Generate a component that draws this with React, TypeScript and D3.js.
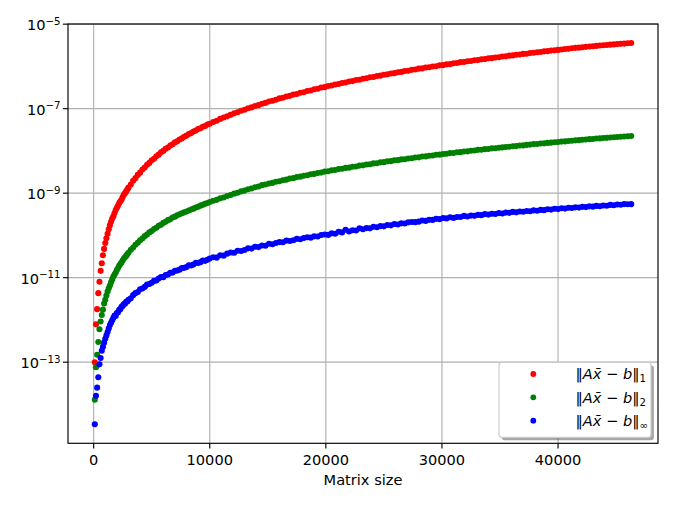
import React from "react";
import * as d3 from "d3";

// Matrix sizes (x)
const matrixSize = [
  100, 200, 300, 400, 500, 600, 700, 800, 900, 1000,
  1100, 1200, 1300, 1400, 1500, 1600, 1700, 1800, 1900, 2000,
  2100, 2200, 2300, 2400, 2500, 2600, 2700, 2800, 2900, 3000,
  3200, 3400, 3600, 3800, 4000, 4200, 4400, 4600, 4800, 5000,
  5200, 5400, 5600, 5800, 6000, 6200, 6400, 6600, 6800, 7000,
  7200, 7400, 7600, 7800, 8000, 8200, 8400, 8600, 8800, 9000,
  9200, 9400, 9600, 9800, 10000,
  10300, 10600, 10900, 11200, 11500, 11800, 12100, 12400, 12700, 13000,
  13300, 13600, 13900, 14200, 14500, 14800, 15100, 15400, 15700, 16000,
  16300, 16600, 16900, 17200, 17500, 17800, 18100, 18400, 18700, 19000,
  19300, 19600, 19900, 20200, 20500, 20800, 21100, 21400, 21700, 22000,
  22300, 22600, 22900, 23200, 23500, 23800, 24100, 24400, 24700, 25000,
  25300, 25600, 25900, 26200, 26500, 26800, 27100, 27400, 27700, 28000,
  28300, 28600, 28900, 29200, 29500, 29800, 30100, 30400, 30700, 31000,
  31300, 31600, 31900, 32200, 32500, 32800, 33100, 33400, 33700, 34000,
  34300, 34600, 34900, 35200, 35500, 35800, 36100, 36400, 36700, 37000,
  37300, 37600, 37900, 38200, 38500, 38800, 39100, 39400, 39700, 40000,
  40300, 40600, 40900, 41200, 41500, 41800, 42100, 42400, 42700, 43000,
  43300, 43600, 43900, 44200, 44500, 44800, 45100, 45400, 45700, 46000, 46300,
];

// ||Ax - b||_1
const normOne = [
  1.0e-13, 7.9e-13, 1.8e-12, 4.3e-12, 8.0e-12, 1.45e-11, 2.2e-11, 3.4e-11, 4.8e-11, 6.6e-11,
  8.6e-11, 1.1e-10, 1.4e-10, 1.75e-10, 2.1e-10, 2.5e-10, 2.85e-10, 3.4e-10, 4.0e-10, 4.5e-10,
  5.1e-10, 5.8e-10, 6.4e-10, 7.0e-10, 8.1e-10, 9.2e-10, 1.0e-9, 1.1e-9, 1.22e-9, 1.35e-9,
  1.60e-9, 1.97e-9, 2.27e-9, 2.71e-9, 3.06e-9, 3.62e-9, 4.05e-9, 4.70e-9, 5.20e-9, 6.01e-9,
  6.55e-9, 7.50e-9, 8.15e-9, 9.25e-9, 1.00e-8, 1.12e-8, 1.20e-8, 1.34e-8, 1.43e-8, 1.59e-8,
  1.70e-8, 1.87e-8, 1.98e-8, 2.17e-8, 2.30e-8, 2.52e-8, 2.64e-8, 2.89e-8, 3.03e-8, 3.29e-8,
  3.45e-8, 3.73e-8, 3.90e-8, 4.21e-8, 4.40e-8,
  4.85e-8, 5.17e-8, 5.72e-8, 6.16e-8, 6.58e-8, 7.13e-8, 7.75e-8, 8.24e-8, 8.92e-8, 9.41e-8,
  1.02e-7, 1.07e-7, 1.16e-7, 1.21e-7, 1.31e-7, 1.37e-7, 1.48e-7, 1.54e-7, 1.62e-7, 1.75e-7,
  1.81e-7, 1.94e-7, 2.01e-7, 2.15e-7, 2.22e-7, 2.38e-7, 2.45e-7, 2.62e-7, 2.69e-7, 2.87e-7,
  2.95e-7, 3.15e-7, 3.23e-7, 3.43e-7, 3.52e-7, 3.74e-7, 3.82e-7, 4.06e-7, 4.15e-7, 4.39e-7,
  4.49e-7, 4.76e-7, 4.85e-7, 5.12e-7, 5.23e-7, 5.52e-7, 5.63e-7, 5.93e-7, 6.04e-7, 6.36e-7,
  6.48e-7, 6.81e-7, 6.93e-7, 7.29e-7, 7.41e-7, 7.78e-7, 7.90e-7, 8.29e-7, 8.44e-7, 8.84e-7,
  8.97e-7, 9.39e-7, 9.54e-7, 9.98e-7, 1.01e-6, 1.06e-6, 1.07e-6, 1.12e-6, 1.13e-6, 1.19e-6,
  1.20e-6, 1.26e-6, 1.27e-6, 1.32e-6, 1.34e-6, 1.40e-6, 1.41e-6, 1.47e-6, 1.49e-6, 1.55e-6,
  1.57e-6, 1.63e-6, 1.65e-6, 1.71e-6, 1.73e-6, 1.80e-6, 1.82e-6, 1.89e-6, 1.91e-6, 1.98e-6,
  2.00e-6, 2.07e-6, 2.10e-6, 2.17e-6, 2.20e-6, 2.27e-6, 2.30e-6, 2.37e-6, 2.40e-6, 2.46e-6,
  2.51e-6, 2.58e-6, 2.62e-6, 2.68e-6, 2.75e-6, 2.78e-6, 2.84e-6, 2.90e-6, 2.95e-6, 3.01e-6,
  3.06e-6, 3.12e-6, 3.17e-6, 3.22e-6, 3.27e-6, 3.32e-6, 3.37e-6, 3.42e-6, 3.47e-6, 3.52e-6, 3.57e-6,
];

// ||Ax - b||_2
const normTwo = [
  1.3e-14, 7.6e-14, 1.5e-13, 3.0e-13, 6.0e-13, 9.2e-13, 1.31e-12, 1.75e-12, 2.45e-12, 3.0e-12,
  3.8e-12, 4.7e-12, 5.6e-12, 6.5e-12, 7.8e-12, 9.0e-12, 1.06e-11, 1.19e-11, 1.33e-11, 1.52e-11,
  1.70e-11, 1.92e-11, 2.11e-11, 2.29e-11, 2.55e-11, 2.84e-11, 3.05e-11, 3.28e-11, 3.60e-11, 3.90e-11,
  4.6e-11, 5.17e-11, 6.03e-11, 6.70e-11, 7.72e-11, 8.47e-11, 9.62e-11, 1.05e-10, 1.18e-10, 1.27e-10,
  1.42e-10, 1.52e-10, 1.69e-10, 1.79e-10, 1.98e-10, 2.10e-10, 2.30e-10, 2.42e-10, 2.65e-10, 2.78e-10,
  2.99e-10, 3.16e-10, 3.35e-10, 3.52e-10, 3.69e-10, 3.88e-10, 4.12e-10, 4.30e-10, 4.57e-10, 4.78e-10,
  5.06e-10, 5.29e-10, 5.59e-10, 5.83e-10, 6.14e-10,
  6.6e-10, 6.95e-10, 7.55e-10, 7.92e-10, 8.6e-10, 9.05e-10, 9.74e-10, 1.02e-9, 1.10e-9, 1.15e-9,
  1.24e-9, 1.29e-9, 1.38e-9, 1.44e-9, 1.55e-9, 1.60e-9, 1.70e-9, 1.75e-9, 1.86e-9, 1.92e-9,
  2.03e-9, 2.09e-9, 2.21e-9, 2.27e-9, 2.40e-9, 2.46e-9, 2.59e-9, 2.65e-9, 2.80e-9, 2.86e-9,
  3.01e-9, 3.07e-9, 3.24e-9, 3.30e-9, 3.47e-9, 3.53e-9, 3.71e-9, 3.77e-9, 3.96e-9, 4.02e-9,
  4.22e-9, 4.28e-9, 4.49e-9, 4.55e-9, 4.77e-9, 4.83e-9, 5.06e-9, 5.12e-9, 5.36e-9, 5.42e-9,
  5.66e-9, 5.73e-9, 5.98e-9, 6.05e-9, 6.30e-9, 6.37e-9, 6.64e-9, 6.71e-9, 6.99e-9, 7.05e-9,
  7.35e-9, 7.41e-9, 7.71e-9, 7.78e-9, 8.09e-9, 8.16e-9, 8.48e-9, 8.55e-9, 8.88e-9, 8.95e-9,
  9.28e-9, 9.36e-9, 9.70e-9, 9.78e-9, 1.01e-8, 1.02e-8, 1.06e-8, 1.07e-8, 1.10e-8, 1.11e-8,
  1.15e-8, 1.16e-8, 1.19e-8, 1.21e-8, 1.24e-8, 1.25e-8, 1.29e-8, 1.30e-8, 1.34e-8, 1.35e-8,
  1.39e-8, 1.41e-8, 1.45e-8, 1.46e-8, 1.50e-8, 1.51e-8, 1.55e-8, 1.57e-8, 1.61e-8, 1.62e-8,
  1.66e-8, 1.68e-8, 1.72e-8, 1.74e-8, 1.78e-8, 1.80e-8, 1.84e-8, 1.86e-8, 1.90e-8, 1.92e-8,
  1.96e-8, 1.98e-8, 2.02e-8, 2.04e-8, 2.08e-8, 2.10e-8, 2.14e-8, 2.16e-8, 2.20e-8, 2.22e-8, 2.25e-8,
];

// ||Ax - b||_inf
const normInf = [
  3.4e-15, 1.6e-14, 2.5e-14, 4.4e-14, 8.9e-14, 1.26e-13, 1.86e-13, 2.3e-13, 2.9e-13, 3.6e-13,
  4.3e-13, 5.2e-13, 6.3e-13, 7.6e-13, 8.6e-13, 9.8e-13, 1.12e-12, 1.27e-12, 1.24e-12, 1.45e-12,
  1.52e-12, 1.74e-12, 1.80e-12, 2.05e-12, 2.15e-12, 2.38e-12, 2.41e-12, 2.70e-12, 2.72e-12, 2.98e-12,
  3.25e-12, 3.86e-12, 4.30e-12, 4.58e-12, 5.30e-12, 5.55e-12, 6.05e-12, 6.85e-12, 7.10e-12, 7.60e-12,
  8.40e-12, 8.55e-12, 9.50e-12, 1.04e-11, 1.03e-11, 1.16e-11, 1.19e-11, 1.31e-11, 1.32e-11, 1.45e-11,
  1.47e-11, 1.55e-11, 1.70e-11, 1.71e-11, 1.78e-11, 1.97e-11, 1.95e-11, 2.05e-11, 2.25e-11, 2.22e-11,
  2.33e-11, 2.55e-11, 2.50e-11, 2.64e-11, 2.85e-11,
  3.05e-11, 2.98e-11, 3.40e-11, 3.32e-11, 3.70e-11, 3.95e-11, 3.88e-11, 4.35e-11, 4.28e-11, 4.52e-11,
  4.95e-11, 4.88e-11, 5.40e-11, 5.30e-11, 5.78e-11, 5.72e-11, 6.35e-11, 6.20e-11, 6.60e-11, 6.95e-11,
  6.90e-11, 7.55e-11, 7.40e-11, 7.68e-11, 8.30e-11, 8.10e-11, 8.70e-11, 9.05e-11, 8.85e-11, 9.50e-11,
  9.45e-11, 1.02e-10, 1.05e-10, 1.03e-10, 1.12e-10, 1.10e-10, 1.22e-10, 1.18e-10, 1.36e-10, 1.24e-10,
  1.33e-10, 1.31e-10, 1.47e-10, 1.40e-10, 1.49e-10, 1.47e-10, 1.60e-10, 1.56e-10, 1.66e-10, 1.64e-10,
  1.76e-10, 1.73e-10, 1.86e-10, 1.82e-10, 1.93e-10, 1.91e-10, 2.04e-10, 2.08e-10, 2.06e-10, 2.12e-10,
  2.26e-10, 2.21e-10, 2.34e-10, 2.33e-10, 2.47e-10, 2.43e-10, 2.58e-10, 2.53e-10, 2.70e-10, 2.60e-10,
  2.74e-10, 2.73e-10, 2.90e-10, 2.81e-10, 2.95e-10, 2.91e-10, 3.06e-10, 3.02e-10, 3.20e-10, 3.11e-10,
  3.25e-10, 3.21e-10, 3.38e-10, 3.30e-10, 3.47e-10, 3.42e-10, 3.60e-10, 3.52e-10, 3.68e-10, 3.63e-10,
  3.80e-10, 3.74e-10, 3.92e-10, 3.85e-10, 4.02e-10, 3.97e-10, 4.15e-10, 4.08e-10, 4.28e-10, 4.20e-10,
  4.38e-10, 4.31e-10, 4.52e-10, 4.45e-10, 4.62e-10, 4.55e-10, 4.75e-10, 4.68e-10, 4.88e-10, 4.80e-10,
  5.00e-10, 4.92e-10, 5.12e-10, 5.05e-10, 5.28e-10, 5.16e-10, 5.38e-10, 5.30e-10, 5.52e-10, 5.45e-10, 5.50e-10,
];

const xTicks = [0, 10000, 20000, 30000, 40000];
const yTickExponents = [-13, -11, -9, -7, -5];
const legendSubscripts = ["1", "2", "\u221e"];
const seriesColors = ["#ff0000", "#008000", "#0000ff"];

const W = 674;
const H = 505;
const box = { left: 68, right: 658, top: 24, bottom: 443.3 };
const FONT = "DejaVu Sans";
const FS = 14.6;
const FS_SMALL = 10.2;

export default function App() {
  const [xMin, xMax] = d3.extent(matrixSize) as [number, number];
  const xPad = 0.05 * (xMax - xMin);
  const x = d3.scaleLinear().domain([xMin - xPad, xMax + xPad]).range([box.left, box.right]);

  const all = [...normOne, ...normTwo, ...normInf];
  const lo = Math.log10(d3.min(all) as number);
  const hi = Math.log10(d3.max(all) as number);
  const yPad = 0.05 * (hi - lo);
  const y = d3
    .scaleLog()
    .domain([Math.pow(10, lo - yPad), Math.pow(10, hi + yPad)])
    .range([box.bottom, box.top]);

  const series = [normOne, normTwo, normInf];
  const tickLen = 5.1;
  const lw = 1.15;

  const legend = { x: 499, y: 362.3, w: 152, h: 75 };
  const rowYs = [374, 397.3, 420.7];

  return (
    <svg
      width={W}
      height={H}
      viewBox={`0 0 ${W} ${H}`}
      style={{ position: "absolute", left: 0, top: 0, background: "#fff" }}
      fontFamily={FONT}
    >
      <rect x={0} y={0} width={W} height={H} fill="#fff" />
      {/* grid */}
      <g stroke="#b0b0b0" strokeWidth={lw}>
        {xTicks.map((t) => (
          <line key={"gx" + t} x1={x(t)} x2={x(t)} y1={box.top} y2={box.bottom} />
        ))}
        {yTickExponents.map((e) => (
          <line key={"gy" + e} x1={box.left} x2={box.right} y1={y(Math.pow(10, e))} y2={y(Math.pow(10, e))} />
        ))}
      </g>
      {/* data */}
      {series.map((s, si) => (
        <g key={"s" + si} fill={seriesColors[si]}>
          {s.map((v, i) => (
            <circle key={i} cx={x(matrixSize[i])} cy={y(v)} r={3.05} />
          ))}
        </g>
      ))}
      {/* spines */}
      <rect
        x={box.left}
        y={box.top}
        width={box.right - box.left}
        height={box.bottom - box.top}
        fill="none"
        stroke="#000"
        strokeWidth={lw}
      />
      {/* x ticks */}
      <g>
        {xTicks.map((t) => (
          <g key={"xt" + t}>
            <line x1={x(t)} x2={x(t)} y1={box.bottom} y2={box.bottom + tickLen} stroke="#000" strokeWidth={lw} />
            <text x={x(t)} y={465.2} textAnchor="middle" fontSize={FS} fill="#000">
              {String(t)}
            </text>
          </g>
        ))}
      </g>
      <text x={(box.left + box.right) / 2} y={484.8} textAnchor="middle" fontSize={FS} fill="#000">
        Matrix size
      </text>
      {/* y ticks */}
      <g>
        {yTickExponents.map((e) => {
          const yy = y(Math.pow(10, e));
          return (
            <g key={"yt" + e}>
              <line x1={box.left - tickLen} x2={box.left} y1={yy} y2={yy} stroke="#000" strokeWidth={lw} />
              <text x={60.5} y={yy + 6} textAnchor="end" fontSize={FS} fill="#000">
                <tspan>10</tspan>
                <tspan dy={-5.2} fontSize={FS_SMALL}>{"\u2212" + Math.abs(e)}</tspan>
              </text>
            </g>
          );
        })}
      </g>
      {/* legend */}
      <rect
        x={legend.x + 2.9}
        y={legend.y + 2.9}
        width={legend.w}
        height={legend.h}
        rx={2.9}
        fill="#4d4d4d"
        fillOpacity={0.5}
      />
      <rect
        x={legend.x}
        y={legend.y}
        width={legend.w}
        height={legend.h}
        rx={2.9}
        fill="#fff"
        stroke="#cccccc"
        strokeWidth={lw}
      />
      {legendSubscripts.map((sub, i) => (
        <g key={"lg" + i}>
          <circle cx={533.3} cy={rowYs[i]} r={2.9} fill={seriesColors[i]} />
          <text x={575.5} y={rowYs[i] + 5.2} fontSize={FS} fill="#000">
            <tspan>{"\u2016"}</tspan>
            <tspan fontStyle="italic">{"Ax\u0304"}</tspan>
            <tspan>{" \u2212 "}</tspan>
            <tspan fontStyle="italic">b</tspan>
            <tspan>{"\u2016"}</tspan>
            <tspan dy={3.2} fontSize={FS_SMALL}>{sub}</tspan>
          </text>
        </g>
      ))}
    </svg>
  );
}
